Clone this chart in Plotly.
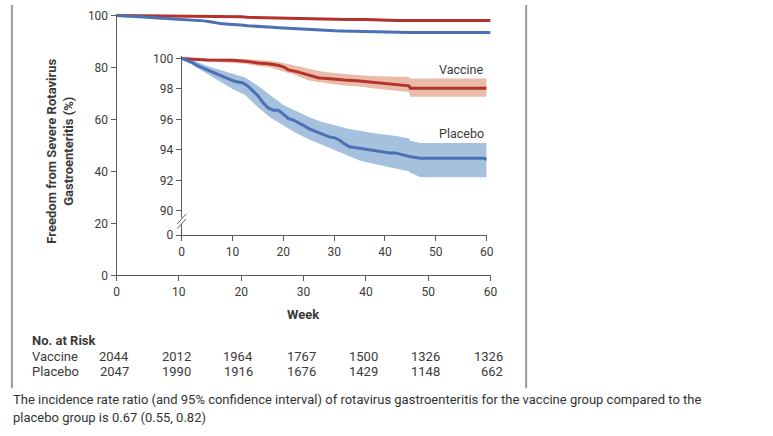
import plotly.graph_objects as go

W, H = 773, 436

# ---- data ----
weeks_placebo = [0, 1, 2, 3, 4, 5, 6, 7, 8, 9, 10, 11, 12, 13, 14, 15, 16, 17, 18, 19, 20,
                 21, 22, 23, 24, 25, 26, 27, 28, 29, 30, 31, 32, 33, 34, 35, 36, 37, 38, 39,
                 40, 41, 42, 43, 44, 45, 46, 47, 59.5, 60]
surv_placebo = [100, 99.9, 99.75, 99.55, 99.4, 99.25, 99.1, 98.95, 98.8, 98.7, 98.55, 98.45,
                98.4, 98.2, 97.9, 97.55, 97.1, 96.75, 96.6, 96.6, 96.35, 96.05, 95.95, 95.8,
                95.6, 95.4, 95.25, 95.1, 95.0, 94.85, 94.8, 94.65, 94.4, 94.2, 94.15, 94.1,
                94.05, 94.0, 93.95, 93.9, 93.85, 93.8, 93.8, 93.7, 93.6, 93.55, 93.5, 93.45,
                93.45, 93.35]

weeks_vaccine = [0, 2, 5, 10, 12, 13, 15, 17, 19, 20, 21, 22, 23, 24, 25, 26, 27, 28, 30,
                 32, 35, 37, 40, 42, 44, 44.7, 45, 60]
surv_vaccine = [100, 99.95, 99.9, 99.88, 99.85, 99.8, 99.7, 99.65, 99.55, 99.45, 99.25, 99.2,
                99.1, 99.0, 98.9, 98.8, 98.72, 98.7, 98.62, 98.58, 98.52, 98.45, 98.38, 98.3,
                98.2, 98.2, 98.05, 98.05]

ci_weeks = [0, 2.5, 5, 7.5, 10, 12.5, 15, 17.5, 20, 22.5, 25, 27.5, 30, 32.5, 35, 37.5, 40,
            42.5, 44.7, 45, 47, 60]
placebo_upper = [100, 99.85, 99.5, 99.25, 98.95, 98.75, 98.2, 97.55, 96.95, 96.55, 96.15,
                 95.85, 95.6, 95.4, 95.25, 95.1, 95.0, 94.9, 94.75, 94.6, 94.45, 94.45]
placebo_lower = [100, 99.5, 99.0, 98.5, 98.0, 97.6, 96.8, 96.1, 95.6, 95.1, 94.7, 94.35,
                 94.0, 93.6, 93.3, 93.1, 92.9, 92.75, 92.6, 92.5, 92.2, 92.2]
vaccine_upper = [100, 100, 100, 100, 99.98, 99.95, 99.9, 99.85, 99.7, 99.5, 99.3, 99.15,
                 99.05, 98.95, 98.9, 98.85, 98.82, 98.8, 98.78, 98.68, 98.68, 98.68]
vaccine_lower = [100, 99.85, 99.8, 99.75, 99.7, 99.65, 99.5, 99.4, 99.15, 98.9, 98.55, 98.4,
                 98.3, 98.2, 98.15, 98.05, 97.95, 97.85, 97.8, 97.49, 97.49, 97.49]

main_xticks = [0, 10, 20, 30, 40, 50, 60]
main_yticks = [0, 20, 40, 60, 80, 100]
inset_ytick_vals = [88.4, 90, 92, 94, 96, 98, 100]
inset_ytick_text = ["0", "90", "92", "94", "96", "98", "100"]

risk_weeks = [0, 10, 20, 30, 40, 50, 60]
risk_vaccine = [2044, 2012, 1964, 1767, 1500, 1326, 1326]
risk_placebo = [2047, 1990, 1916, 1676, 1429, 1148, 662]

caption_lines = ["The incidence rate ratio (and 95% confidence interval) of rotavirus gastroenteritis "
                 "for the vaccine group compared to the",
                 "placebo group is 0.67 (0.55, 0.82)"]

# ---- style ----
FONT = "Roboto, Liberation Sans, Arial, sans-serif"
RED = "#b3322b"
BLUE = "#4a70b5"
RED_BAND = "rgba(228,164,142,0.75)"
BLUE_BAND = "rgba(140,176,212,0.78)"
AX = "#5a5a5a"
TXT = "#3a3a3a"


def px(x):
    return x / W


def py(y):
    return 1 - y / H


fig = go.Figure()

# main plot
fig.add_trace(go.Scatter(x=weeks_vaccine, y=surv_vaccine, mode="lines", line=dict(color=RED, width=3),
                         xaxis="x", yaxis="y", showlegend=False))
fig.add_trace(go.Scatter(x=weeks_placebo, y=surv_placebo, mode="lines", line=dict(color=BLUE, width=3),
                         xaxis="x", yaxis="y", showlegend=False))

# inset bands
fig.add_trace(go.Scatter(x=ci_weeks, y=vaccine_lower, mode="lines", line=dict(width=0),
                         xaxis="x2", yaxis="y2", showlegend=False))
fig.add_trace(go.Scatter(x=ci_weeks, y=vaccine_upper, mode="lines", line=dict(width=0),
                         fill="tonexty", fillcolor=RED_BAND, xaxis="x2", yaxis="y2", showlegend=False))
fig.add_trace(go.Scatter(x=ci_weeks, y=placebo_lower, mode="lines", line=dict(width=0),
                         xaxis="x2", yaxis="y2", showlegend=False))
fig.add_trace(go.Scatter(x=ci_weeks, y=placebo_upper, mode="lines", line=dict(width=0),
                         fill="tonexty", fillcolor=BLUE_BAND, xaxis="x2", yaxis="y2", showlegend=False))
fig.add_trace(go.Scatter(x=weeks_vaccine, y=surv_vaccine, mode="lines", line=dict(color=RED, width=3),
                         xaxis="x2", yaxis="y2", showlegend=False))
fig.add_trace(go.Scatter(x=weeks_placebo, y=surv_placebo, mode="lines", line=dict(color=BLUE, width=3),
                         xaxis="x2", yaxis="y2", showlegend=False))

axis_common = dict(showline=True, linecolor=AX, linewidth=1, ticks="outside", ticklen=5,
                   tickcolor=AX, tickwidth=1, showgrid=False, zeroline=False,
                   tickfont=dict(family=FONT, size=12, color=TXT))

fig.update_layout(
    width=W, height=H, autosize=False,
    margin=dict(l=0, r=0, t=0, b=0),
    paper_bgcolor="white", plot_bgcolor="rgba(0,0,0,0)",
    font=dict(family=FONT, color=TXT),
    xaxis=dict(domain=[px(115), px(494)], range=[0, 60], tickvals=main_xticks,
               anchor="y", **axis_common),
    yaxis=dict(domain=[py(278), py(9.1)], range=[0, 100.6], tickvals=main_yticks,
               anchor="x", **axis_common),
    xaxis2=dict(domain=[px(181), px(490)], range=[0, 60], tickvals=main_xticks,
                anchor="y2", **axis_common),
    yaxis2=dict(domain=[py(236.7), py(52.6)], range=[88.4, 100.15], tickvals=inset_ytick_vals,
                ticktext=inset_ytick_text, anchor="x2", **axis_common),
)

shapes = []
# axis break on inset y axis
shapes.append(dict(type="line", xref="paper", yref="paper", x0=px(181), x1=px(181), y0=py(218.5), y1=py(225.5),
                   line=dict(color="white", width=3)))
for dy in (0, 5):
    shapes.append(dict(type="line", xref="paper", yref="paper", x0=px(176.5), y0=py(225 + dy),
                       x1=px(185.5), y1=py(215 + dy), line=dict(color=AX, width=1)))
# page frame lines
shapes.append(dict(type="line", xref="paper", yref="paper", x0=px(9), x1=px(9), y0=py(0), y1=py(394),
                   line=dict(color="#9a9a9a", width=2)))
shapes.append(dict(type="line", xref="paper", yref="paper", x0=px(530), x1=px(530), y0=py(0), y1=py(394),
                   line=dict(color="#9a9a9a", width=2)))
fig.update_layout(shapes=shapes)

ann = []
ann.append(dict(text="Vaccine", x=60, y=99.3, xref="x2", yref="y2", xanchor="right", yanchor="middle",
                showarrow=False, xshift=-1, font=dict(family=FONT, size=12.5, color=TXT)))
ann.append(dict(text="Placebo", x=60, y=95.09, xref="x2", yref="y2", xanchor="right", yanchor="middle",
                showarrow=False, xshift=-1, font=dict(family=FONT, size=12.5, color=TXT)))
ann.append(dict(text="<b>Week</b>", x=30, y=py(318), xref="x", yref="paper", xanchor="center", yanchor="middle",
                showarrow=False, font=dict(family=FONT, size=13, color=TXT)))
ann.append(dict(text="<b>Freedom from Severe Rotavirus<br>Gastroenteritis (%)</b>", x=px(57.5), y=py(150),
                xref="paper", yref="paper", xanchor="center", yanchor="middle", textangle=-90,
                showarrow=False, font=dict(family=FONT, size=13, color=TXT)))
ann.append(dict(text="<b>No. at Risk</b>", x=px(27), y=py(345), xref="paper", yref="paper",
                xanchor="left", yanchor="middle", showarrow=False, font=dict(family=FONT, size=13, color=TXT)))
ann.append(dict(text="Vaccine", x=px(27), y=py(361), xref="paper", yref="paper",
                xanchor="left", yanchor="middle", showarrow=False, font=dict(family=FONT, size=13, color=TXT)))
ann.append(dict(text="Placebo", x=px(27), y=py(377), xref="paper", yref="paper",
                xanchor="left", yanchor="middle", showarrow=False, font=dict(family=FONT, size=13, color=TXT)))
for wk, v, p in zip(risk_weeks, risk_vaccine, risk_placebo):
    ann.append(dict(text=str(v), x=wk, y=py(361), xref="x", yref="paper", xanchor="right", yanchor="middle",
                    xshift=14, showarrow=False, font=dict(family=FONT, size=13, color=TXT)))
    ann.append(dict(text=str(p), x=wk, y=py(377), xref="x", yref="paper", xanchor="right", yanchor="middle",
                    xshift=14, showarrow=False, font=dict(family=FONT, size=13, color=TXT)))
for i, line in enumerate(caption_lines):
    ann.append(dict(text=line, x=px(8), y=py(406 + 18 * i), xref="paper", yref="paper", xanchor="left",
                    yanchor="middle", align="left", showarrow=False,
                    font=dict(family=FONT, size=13, color="#333333")))
fig.update_layout(annotations=ann)

fig.write_html("out.html", post_script="document.body.style.margin='0px';",
               config={"displayModeBar": False})
